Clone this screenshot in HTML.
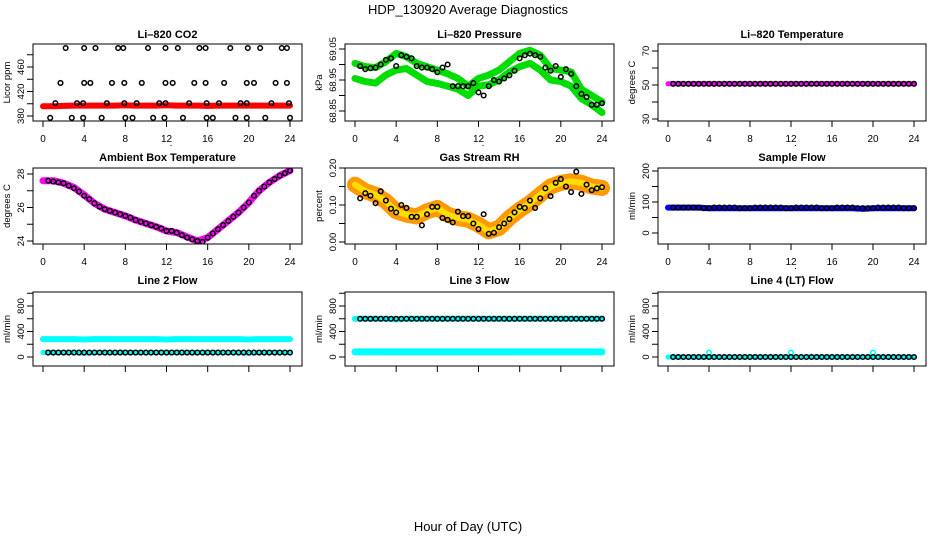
<!DOCTYPE html>
<html><head><meta charset="utf-8"><style>
body{margin:0;background:#fff}
svg{display:block;font-family:"Liberation Sans",Arial,sans-serif}
</style></head><body>
<svg id="c" width="936" height="540" viewBox="0 0 936 540">
<rect width="936" height="540" fill="#fff"/>
<text x="468" y="14" text-anchor="middle" font-size="13">HDP_130920  Average Diagnostics</text>
<text x="468" y="531" text-anchor="middle" font-size="13">Hour of Day (UTC)</text>
</svg>
<script>
const hours=[0,1,2,3,4,5,6,7,8,9,10,11,12,13,14,15,16,17,18,19,20,21,22,23,24];
const halfHours=[0.5,1,1.5,2,2.5,3,3.5,4,4.5,5,5.5,6,6.5,7,7.5,8,8.5,9,9.5,10,10.5,11,11.5,12,12.5,13,13.5,14,14.5,15,15.5,16,16.5,17,17.5,18,18.5,19,19.5,20,20.5,21,21.5,22,22.5,23,23.5,24];
const xTickLabels=["0","4","8","12","16","20","24"];
// CO2
const co2Band=[396,396,396.5,397,397,397,397,397,397.5,397,397,397,397.5,397,397,397,396.5,397,397,397,397,397,397,397,397];
const co2TopT=[2.2,4.0,5.1,7.3,7.8,10.2,11.9,13.1,15.2,15.8,18.2,19.9,21.1,23.2,23.7];
const co2TopV=[491,491,491,491,491,491,491,491,491,491,491,491,491,491,491];
const co2MidT=[1.7,4.0,4.6,6.7,7.9,9.6,11.9,12.6,14.7,15.8,17.6,19.8,20.5,22.6,23.7];
const co2MidV=[434,434,434,434,434,434,434,434,434,434,434,434,434,434,434];
const co2LowT=[1.2,3.3,3.9,6.2,7.9,9.1,11.3,11.9,14.2,15.9,17.1,19.2,19.8,22.2,23.9];
const co2LowV=[401,401,401,401,401,401,401,401,401,401,401,401,401,401,401];
const co2BotT=[0.7,2.8,3.9,5.7,8.0,8.7,10.7,11.8,13.6,15.9,16.5,18.7,19.8,21.6,24.0];
const co2BotV=[377,377,377,377,377,377,377,377,377,377,377,377,377,377,377];
// Pressure
const presUpper=[69.004,68.993,68.99,69.009,69.036,69.025,69.004,68.993,68.982,68.97,68.955,68.93,68.955,68.966,68.982,69.009,69.036,69.046,69.03,68.987,68.982,68.976,68.92,68.9,68.88];
const presLower=[68.955,68.945,68.94,68.966,68.982,68.987,68.966,68.945,68.939,68.93,68.92,68.9,68.93,68.935,68.95,68.976,68.993,69.004,68.982,68.95,68.945,68.93,68.89,68.87,68.845];
const presCirc=[68.995,68.985,68.988,68.99,69.0,69.015,69.02,68.995,69.03,69.025,69.02,68.995,68.99,68.99,68.985,68.975,68.99,69.0,68.93,68.93,68.93,68.93,68.94,68.91,68.9,68.93,68.95,68.945,68.955,68.965,68.98,69.02,69.03,69.035,69.03,69.025,68.99,68.98,68.995,68.96,68.985,68.97,68.93,68.905,68.895,68.87,68.87,68.875];
// Li-820 temp
const tempBand=[50.7,50.7,50.7,50.7,50.7,50.7,50.7,50.7,50.7,50.7,50.7,50.7,50.7,50.7,50.7,50.7,50.7,50.7,50.7,50.7,50.7,50.7,50.7,50.7,50.7];
const tempCirc=[50.7,50.7,50.7,50.7,50.7,50.7,50.7,50.7,50.7,50.7,50.7,50.7,50.7,50.7,50.7,50.7,50.7,50.7,50.7,50.7,50.7,50.7,50.7,50.7,50.7,50.7,50.7,50.7,50.7,50.7,50.7,50.7,50.7,50.7,50.7,50.7,50.7,50.7,50.7,50.7,50.7,50.7,50.7,50.7,50.7,50.7,50.7,50.7];
// Ambient
const ambBand=[27.6,27.6,27.45,27.2,26.75,26.25,25.9,25.7,25.5,25.25,25.05,24.85,24.6,24.5,24.25,24.0,24.2,24.7,25.2,25.7,26.3,27.0,27.5,27.9,28.2];
const ambCirc=[27.6,27.55,27.5,27.45,27.3,27.15,26.95,26.7,26.5,26.25,26.05,25.9,25.8,25.7,25.6,25.5,25.4,25.25,25.15,25.05,24.95,24.85,24.75,24.6,24.6,24.5,24.35,24.2,24.1,24.0,23.95,24.2,24.45,24.7,24.95,25.2,25.45,25.7,26.0,26.3,26.7,27.0,27.25,27.5,27.7,27.9,28.05,28.2];
// RH
const rhBand=[0.155,0.137,0.128,0.11,0.083,0.074,0.069,0.083,0.092,0.074,0.065,0.06,0.047,0.029,0.038,0.065,0.087,0.105,0.128,0.15,0.16,0.164,0.16,0.15,0.146];
const rhCirc=[0.118,0.132,0.125,0.105,0.137,0.112,0.09,0.08,0.1,0.092,0.068,0.068,0.045,0.075,0.095,0.095,0.065,0.06,0.053,0.082,0.07,0.07,0.05,0.035,0.075,0.022,0.025,0.04,0.05,0.062,0.08,0.095,0.092,0.112,0.092,0.118,0.145,0.124,0.16,0.17,0.15,0.135,0.19,0.13,0.155,0.14,0.145,0.148];
// Sample flow
const sampBand=[82,82,82,82,80,80,80,80,80,80,80,80,80,80,80,80,80,80,80,78,80,80,80,80,80];
const sampCirc=[82,82,82,82,82,82,80,80,82,82,82,82,82,80,80,80,82,82,82,82,82,82,80,80,82,82,82,82,82,80,80,80,82,82,82,82,80,80,80,80,82,82,82,82,82,80,80,80];
// Line flows
const l2Upper=[280,280,280,280,275,280,280,280,280,280,280,280,275,280,280,280,280,280,280,280,275,280,280,280,280];
const l2Lower=[70,70,70,70,60,70,70,70,70,70,70,70,70,70,70,70,70,70,70,70,60,70,70,70,70];
const l2Circ=[70,70,70,70,70,70,70,70,70,70,70,70,70,70,70,70,70,70,70,70,70,70,70,70,70,70,70,70,70,70,70,70,70,70,70,70,70,70,70,70,70,70,70,70,70,70,70,70];
const l3Upper=[600,600,600,600,590,600,600,600,600,600,600,600,600,600,600,600,600,600,600,600,600,600,600,600,600];
const l3Lower=[80,80,80,80,80,80,80,80,80,80,80,80,80,80,80,80,80,80,80,80,80,80,80,80,80];
const l3Circ=[600,600,600,600,600,600,600,600,600,600,600,600,600,600,600,600,600,600,600,600,600,600,600,600,600,600,600,600,600,600,600,600,600,600,600,600,600,600,600,600,600,600,600,600,600,600,600,600];
const l4Band=[0,0,0,0,0,0,0,0,0,0,0,0,0,0,0,0,0,0,0,0,0,0,0,0,0];
const l4SpikeT=[4,12,20];
const l4SpikeV=[70,70,70];
const l4Circ=[0,0,0,0,0,0,0,0,0,0,0,0,0,0,0,0,0,0,0,0,0,0,0,0,0,0,0,0,0,0,0,0,0,0,0,0,0,0,0,0,0,0,0,0,0,0,0,0];

const NS="http://www.w3.org/2000/svg";
const svg=document.getElementById('c');
function mk(tag,attrs,parent){const e=document.createElementNS(NS,tag);for(const k in attrs)e.setAttribute(k,attrs[k]);(parent||svg).appendChild(e);return e;}
const cols=[{x0:43,x24:290,bl:33,br:302,yt:10},{x0:355,x24:602,bl:345,br:614,yt:322},{x0:668,x24:914,bl:658,br:926,yt:635}];
const rows=[{bt:44,bb:121,title:34},{bt:168,bb:244,title:157},{bt:292,bb:366,title:280}];

function panel(name,title,ci,ri,yref,ticks,labels,ylab,showX,draw){
  const c=cols[ci],r=rows[ri];
  const g=mk('g',{});
  
  
  const xs=h=>c.x0+h*(c.x24-c.x0)/24;
  const ys=v=>yref[1]+(v-yref[0])*(yref[3]-yref[1])/(yref[2]-yref[0]);
  const t=mk('text',{x:(c.bl+c.br)/2,y:r.title+4,'text-anchor':'middle','font-size':11,'font-weight':'bold'},g);
  t.textContent=title;
  
  
  const cp='cp'+ci+ri;
  const cl=mk('clipPath',{id:cp},g);mk('rect',{x:c.bl,y:r.bt,width:c.br-c.bl,height:r.bb-r.bt},cl);
  const pg=mk('g',{'clip-path':'url(#'+cp+')'},g);
  draw(pg,xs,ys);
  const box=mk('rect',{x:c.bl,y:r.bt,width:c.br-c.bl,height:r.bb-r.bt,fill:'none',stroke:'#000','stroke-width':1},g);
  
  
  for(let i=0;i<xTickLabels.length;i++){
    const h=+xTickLabels[i],x=xs(h);
    mk('line',{x1:x,x2:x,y1:r.bb,y2:r.bb+6,stroke:'#000'},g);
    if(showX){const tl=mk('text',{x:x,y:r.bb+21,'text-anchor':'middle','font-size':10},g);tl.textContent=xTickLabels[i];
      
      }
  }
  if(showX){mk('rect',{x:xs(12)+4,y:r.bb+24,width:1,height:1,fill:'#000'},g);}
  for(const v of ticks){const y=ys(v);mk('line',{x1:c.bl-6,x2:c.bl,y1:y,y2:y,stroke:'#000'},g);}
  const lx=c.bl-9;
  for(const lb of labels){const y=ys(+lb);const tl=mk('text',{x:lx,y:y,'text-anchor':'middle','font-size':9.5,transform:'rotate(-90 '+lx+' '+y+')'},g);tl.textContent=lb;
    
    }
  const my=(r.bt+r.bb)/2;
  const yl=mk('text',{x:c.yt,y:my,'text-anchor':'middle','font-size':9.5,transform:'rotate(-90 '+c.yt+' '+my+')'},g);
  yl.textContent=ylab;
  
  
}
function band(g,xs,ys,T,V,color,w,nm){
  const p=mk('polyline',{points:T.map((t,i)=>xs(t)+','+ys(V[i])).join(' '),fill:'none',stroke:color,'stroke-width':w,'stroke-linejoin':'round','stroke-linecap':'round'},g);
  
  
}
function circles(g,xs,ys,T,V,color,nm){
  for(let i=0;i<T.length;i++){
    const c=mk('circle',{cx:xs(T[i]),cy:ys(V[i]),r:2.3,fill:'none',stroke:color,'stroke-width':1.5},g);
    
    
  }
}
function cross(g,xs,ys,T,V,color){
  for(let i=0;i<T.length;i++){mk('rect',{x:xs(T[i])-0.5,y:ys(V[i])-0.5,width:1.2,height:1.2,fill:color},g);}
}
const flowTicks=[0,200,400,600,800,1000],flowLabels=["0","400","800"],flowRef=[0,357,800,306];

panel('co2-panel','Li\u2013820 CO2',0,0,[380,116,460,67],[380,400,420,440,460,480],["380","420","460"],'Licor ppm',true,(g,xs,ys)=>{
  band(g,xs,ys,hours,co2Band,'#f00',6,'co2-band');
  circles(g,xs,ys,co2TopT,co2TopV,'#000','co2-point');circles(g,xs,ys,co2MidT,co2MidV,'#000','co2-point');
  circles(g,xs,ys,co2LowT,co2LowV,'#000','co2-point');circles(g,xs,ys,co2BotT,co2BotV,'#000','co2-point');
});
panel('pressure-panel','Li\u2013820 Pressure',1,0,[69.05,49,68.85,111],[68.85,68.9,68.95,69.0,69.05],["68.85","68.95","69.05"],'kPa',true,(g,xs,ys)=>{
  band(g,xs,ys,hours,presUpper,'#0d0',7,'pressure-band-upper');
  band(g,xs,ys,hours,presLower,'#0d0',7,'pressure-band-lower');
  circles(g,xs,ys,halfHours,presCirc,'#000','pressure-point');
});
panel('li820-temp-panel','Li\u2013820 Temperature',2,0,[70,51,30,119],[30,40,50,60,70],["30","50","70"],'degrees C',true,(g,xs,ys)=>{
  band(g,xs,ys,hours,tempBand,'#f0f',5,'temp-band');
  circles(g,xs,ys,halfHours,tempCirc,'#000','temp-point');cross(g,xs,ys,halfHours,tempCirc,'#f0f');
});
panel('ambient-temp-panel','Ambient Box Temperature',0,1,[28,174,24,241],[24,25,26,27,28],["24","26","28"],'degrees C',true,(g,xs,ys)=>{
  band(g,xs,ys,hours,ambBand,'#f0f',7,'ambient-band');
  circles(g,xs,ys,halfHours,ambCirc,'#000','ambient-point');cross(g,xs,ys,halfHours,ambCirc,'#f0f');
});
panel('rh-panel','Gas Stream RH',1,1,[0.2,168,0,242],[0,0.05,0.1,0.15,0.2],["0.00","0.10","0.20"],'percent',true,(g,xs,ys)=>{
  band(g,xs,ys,hours,rhBand,'#f90',16,'rh-band');
  band(g,xs,ys,hours,rhBand,'#fd0',6,'rh-band-inner');
  circles(g,xs,ys,halfHours,rhCirc,'#000','rh-point');
});
panel('sample-flow-panel','Sample Flow',2,1,[200,171,0,233],[0,50,100,150,200],["0","100","200"],'ml/min',true,(g,xs,ys)=>{
  band(g,xs,ys,hours,sampBand,'#00f',6,'sample-band');
  circles(g,xs,ys,halfHours,sampCirc,'#000','sample-point');cross(g,xs,ys,halfHours,sampCirc,'#00f');
});
panel('line2-flow-panel','Line 2 Flow',0,2,flowRef,flowTicks,flowLabels,'ml/min',false,(g,xs,ys)=>{
  band(g,xs,ys,hours,l2Upper,'#0ff',6,'line2-band-upper');
  band(g,xs,ys,hours,l2Lower,'#0ff',5,'line2-band-lower');
  circles(g,xs,ys,halfHours,l2Circ,'#000','line2-point');cross(g,xs,ys,halfHours,l2Circ,'#0ff');
});
panel('line3-flow-panel','Line 3 Flow',1,2,flowRef,flowTicks,flowLabels,'ml/min',false,(g,xs,ys)=>{
  band(g,xs,ys,hours,l3Upper,'#0ff',6,'line3-band-upper');
  band(g,xs,ys,hours,l3Lower,'#0ff',7,'line3-band-lower');
  circles(g,xs,ys,halfHours,l3Circ,'#000','line3-point');cross(g,xs,ys,halfHours,l3Circ,'#0ff');
});
panel('line4-flow-panel','Line 4 (LT) Flow',2,2,flowRef,flowTicks,flowLabels,'ml/min',false,(g,xs,ys)=>{
  band(g,xs,ys,hours,l4Band,'#0ff',5,'line4-band');
  circles(g,xs,ys,l4SpikeT,l4SpikeV,'#0ff','line4-spike');
  circles(g,xs,ys,halfHours,l4Circ,'#000','line4-point');cross(g,xs,ys,halfHours,l4Circ,'#0ff');
});
</script>
</body></html>
